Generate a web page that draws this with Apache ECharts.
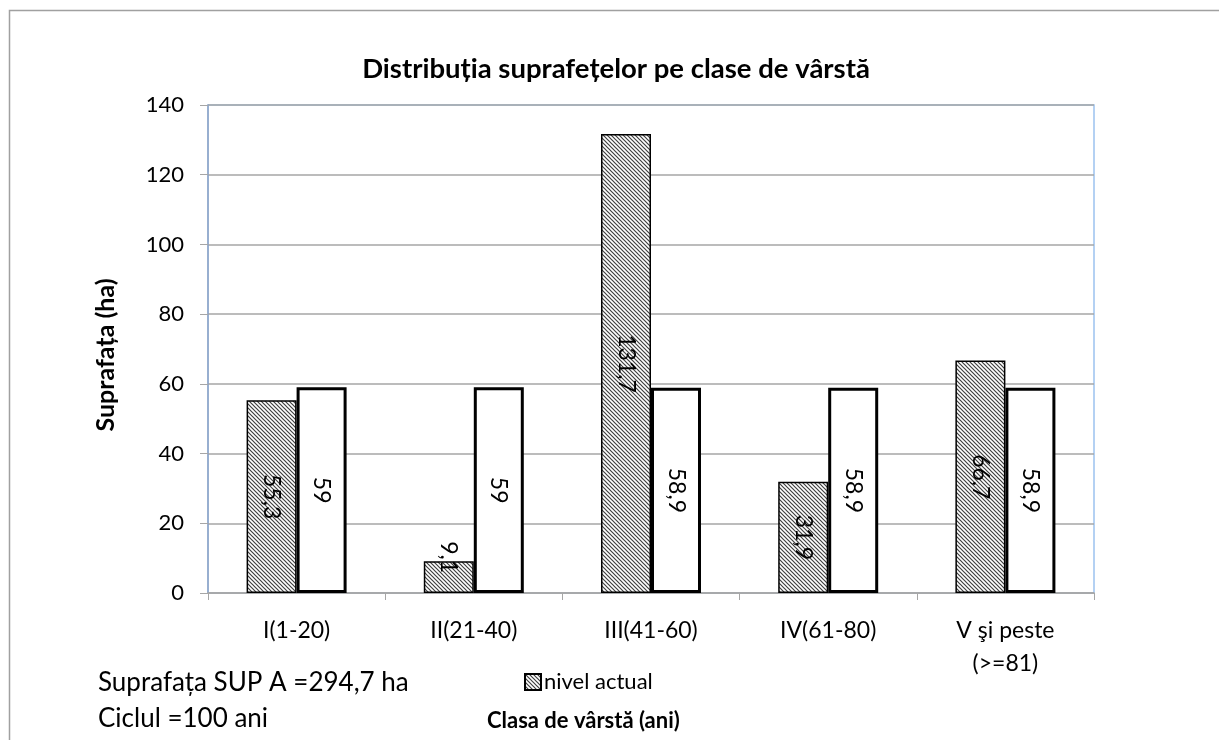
<!DOCTYPE html>
<html><head><meta charset="utf-8">
<script src="https://cdn.jsdelivr.net/npm/echarts@6/dist/echarts.min.js"></script>
<style>html,body{margin:0;padding:0;background:#fff}#c{width:1219px;height:740px}</style>
</head><body><div id="c"></div>
<script>
const categories = ['I(1-20)', 'II(21-40)', 'III(41-60)', 'IV(61-80)', 'V şi peste\n(>=81)'];
const nivelActual = [55.3, 9.1, 131.7, 31.9, 66.7];
const nivelNormal = [59, 59, 58.9, 58.9, 58.9];
const yTicks = { min: 0, max: 140, interval: 20 };
const titleText = 'Distribuția suprafețelor pe clase de vârstă';
const noteLines = ['Suprafața SUP A =294,7 ha', 'Ciclul =100 ani'];

const FONT = 'Lato, "Open Sans", sans-serif';
function hatch() {
  const c = document.createElement('canvas');
  c.width = 4; c.height = 4;
  const g = c.getContext('2d');
  g.fillStyle = '#fff'; g.fillRect(0, 0, 4, 4);
  g.strokeStyle = '#404040'; g.lineWidth = 1.2;
  g.beginPath();
  g.moveTo(-1, -1); g.lineTo(5, 5);
  g.moveTo(-1, 3); g.lineTo(1, 5);
  g.moveTo(3, -1); g.lineTo(5, 1);
  g.stroke();
  return c;
}
const pat = { image: hatch(), repeat: 'repeat' };
const fmt = p => String(p.value).replace('.', ',');

const chart = echarts.init(document.getElementById('c'), null, { renderer: 'canvas' });
chart.setOption({
  backgroundColor: '#fff',
  animation: false,
  title: {
    text: titleText, left: 611, top: 50, textAlign: 'center',
    textStyle: { fontFamily: FONT, fontSize: 27.5, fontWeight: 'bold', color: '#000' }
  },
  legend: {
    data: ['nivel actual'], left: 519, top: 666, itemWidth: 16, itemHeight: 16, itemGap: 4,
    icon: 'rect',
    textStyle: { fontFamily: FONT, fontSize: 22, color: '#000', padding: [0, 0, 0, -2] }
  },
  grid: { left: 208, right: 125, top: 105, bottom: 147, show: true, borderColor: '#9cc2ef', borderWidth: 1.5 },
  xAxis: {
    type: 'category', data: categories,
    axisLine: { lineStyle: { color: '#a6a6a6', width: 1.5 } },
    axisTick: { show: true, length: 7, lineStyle: { color: '#a6a6a6' } },
    axisLabel: { fontFamily: FONT, fontSize: 23, color: '#000', margin: 21, lineHeight: 33, interval: 0 }
  },
  yAxis: {
    type: 'value', min: yTicks.min, max: yTicks.max, interval: yTicks.interval,
    name: 'Suprafața (ha)', nameLocation: 'middle', nameGap: 90, nameRotate: 90,
    nameTextStyle: { fontFamily: FONT, fontSize: 25, fontWeight: 'bold', color: '#000', padding: [0, 12, 0, 0] },
    axisLine: { show: true, lineStyle: { color: '#8fa3c4', width: 1.5 } },
    axisTick: { show: true, length: 8, lineStyle: { color: '#a6a6a6' } },
    splitLine: { lineStyle: { color: '#a6a6a6', width: 1.5 } },
    axisLabel: { fontFamily: FONT, fontSize: 22, color: '#000', margin: 24 }
  },
  series: [
    {
      name: 'nivel actual', type: 'bar', barWidth: 50, barGap: '0%',
      data: nivelActual.map((v, i) => i === 1 ? { value: v, label: { offset: [-20, 0] } } : v),
      itemStyle: { color: pat, borderColor: '#000', borderWidth: 1.5 },
      label: { show: true, position: 'inside', rotate: -90, formatter: fmt,
        fontFamily: FONT, fontSize: 23, color: '#000' }
    },
    {
      name: 'nivel normal', type: 'bar', barWidth: 50, barGap: '0%',
      data: nivelNormal,
      itemStyle: { color: '#fff', borderColor: '#000', borderWidth: 3 },
      label: { show: true, position: 'inside', rotate: -90, formatter: fmt,
        fontFamily: FONT, fontSize: 23, color: '#000' }
    }
  ],
  graphic: [
    { type: 'rect', shape: { x: 9.5, y: 10.5, width: 1300, height: 800 }, silent: true, z: -10,
      style: { fill: null, stroke: '#a0a0a0', lineWidth: 1.5 } },
    { type: 'text', left: 98, top: 670, style: { text: noteLines[0], fontFamily: FONT, fontSize: 26, fill: '#000' } },
    { type: 'text', left: 98, top: 706, style: { text: noteLines[1], fontFamily: FONT, fontSize: 26, fill: '#000' } },
    { type: 'text', left: 487, top: 710, style: { text: 'Clasa de vârstă (ani)', fontFamily: FONT, fontSize: 22, fontWeight: 'bold', fill: '#000' } }
  ]
});
</script></body></html>
